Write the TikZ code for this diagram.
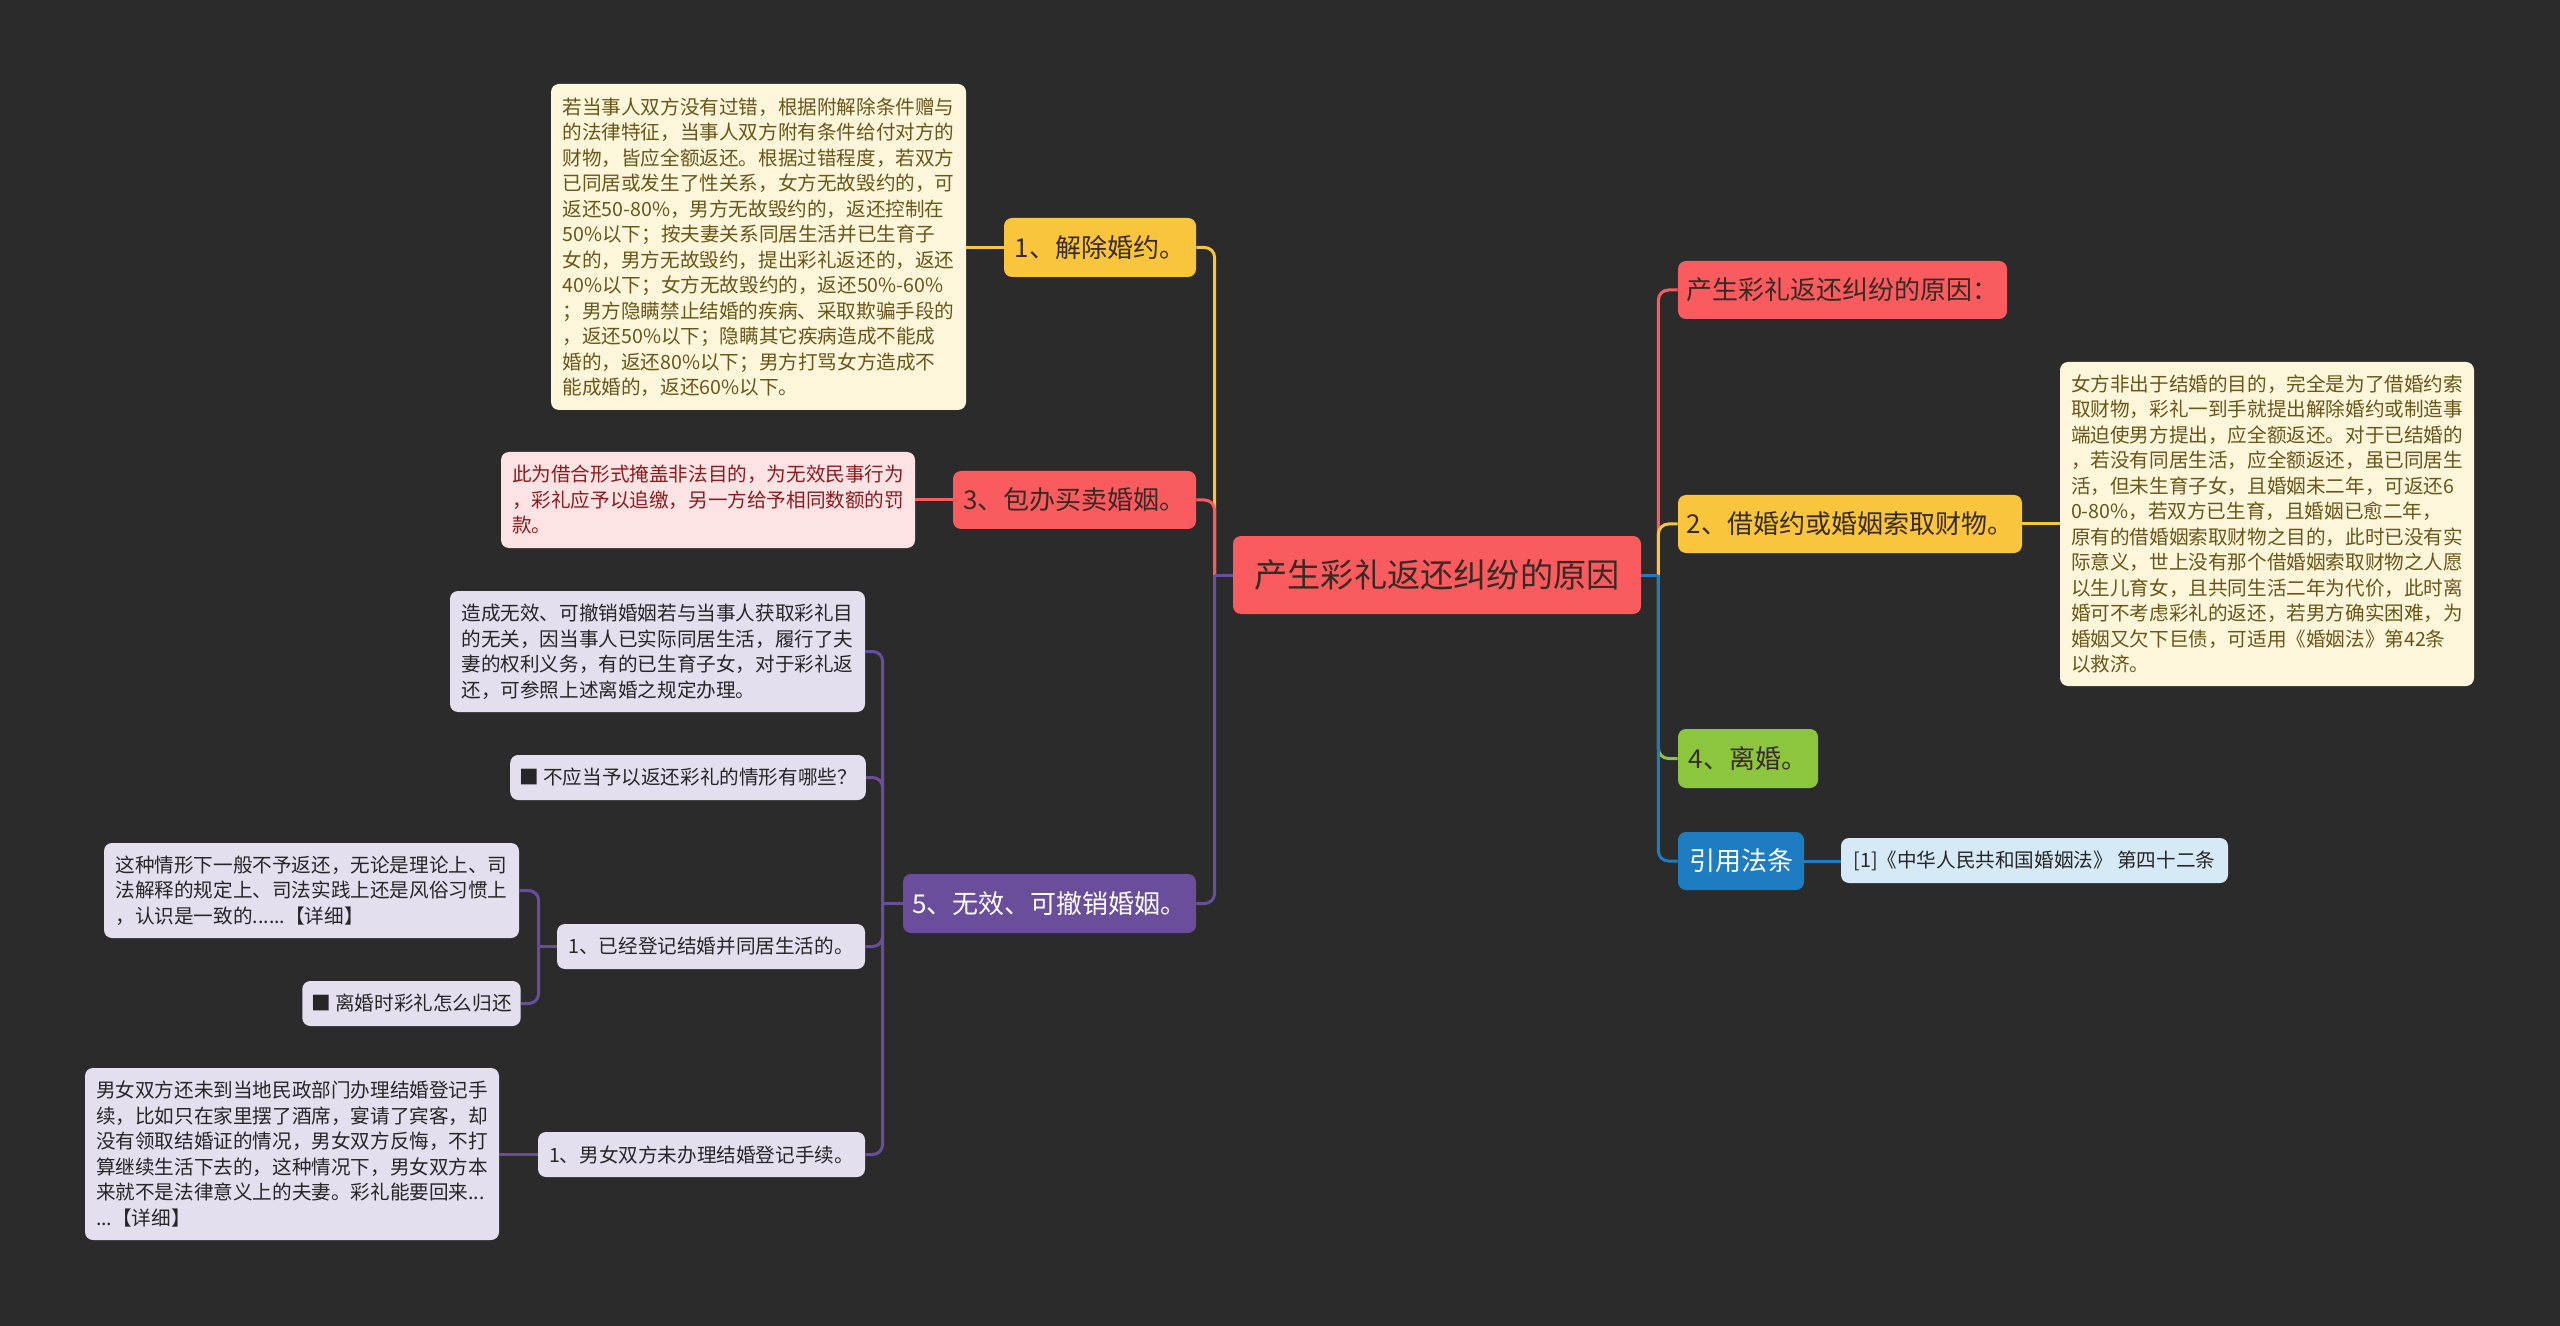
\documentclass[tikz,border=0pt]{standalone}
\usepackage{fontspec}
\setmainfont{Noto Sans CJK SC}
\usetikzlibrary{calc}
\definecolor{bg}{HTML}{2B2B2B}
\definecolor{cred}{HTML}{F95B5F}
\definecolor{cyel}{HTML}{F9C53C}
\definecolor{cpur}{HTML}{6A4E9B}
\definecolor{cgrn}{HTML}{8CC63F}
\definecolor{cblu}{HTML}{1E7DC2}
\definecolor{cream}{HTML}{FDF6DA}
\definecolor{creamtxt}{HTML}{6B561A}
\definecolor{pinkbg}{HTML}{FDE3E3}
\definecolor{pinktxt}{HTML}{8A1D20}
\definecolor{lav}{HTML}{E4DFEE}
\definecolor{lavtxt}{HTML}{262626}
\definecolor{lblue}{HTML}{D6E9F6}
\definecolor{darktxt}{HTML}{3A2A24}
\tikzset{
  box/.style={rounded corners=4pt, inner xsep=5pt, inner ysep=0pt, align=left},
  sz/.style 2 args={minimum width=#1*0.5pt, minimum height=#2*0.5pt},
  bigbox/.style={box, align=center, font=\fontsize{16.6pt}{19pt}\selectfont},
  lvl/.style={box, inner xsep=4pt, align=center, font=\fontsize{13pt}{16pt}\selectfont},
  small/.style={box, inner xsep=4.5pt, font=\fontsize{9.8pt}{12.75pt}\selectfont},
  conn/.style={line width=1.5pt, rounded corners=5pt},
}
\begin{document}
\begin{tikzpicture}[x=0.5pt,y=-0.5pt]
\fill[bg] (0,0) rectangle (2560,1326);
\useasboundingbox (0,0) rectangle (2560,1326);

% central node
\node[bigbox, sz={408}{78}, fill=cred, text=darktxt] (ctr) at (1437,575) {产生彩礼返还纠纷的原因};

% left first level
\node[lvl, sz={192}{59}, fill=cyel, text=darktxt] (n1) at (1100,247.5) {1、解除婚约。};
\node[lvl, sz={243}{58}, fill=cred, text=darktxt] (n3) at (1074.5,500) {3、包办买卖婚姻。};
\node[lvl, sz={293}{59}, fill=cpur, text=white] (n5) at (1049.5,903.5) {5、无效、可撤销婚姻。};

% right first level
\node[lvl, sz={329}{58}, fill=cred, text=darktxt] (r0) at (1842.5,290) {产生彩礼返还纠纷的原因：};
\node[lvl, sz={344}{58}, fill=cyel, text=darktxt] (n2) at (1850,524) {2、借婚约或婚姻索取财物。};
\node[lvl, sz={140}{59}, fill=cgrn, text=darktxt] (n4) at (1748,758.5) {4、离婚。};
\node[lvl, sz={126}{58}, fill=cblu, text=white] (law) at (1741,861) {引用法条};

% details
\node[small, sz={415}{326}, fill=cream, text=creamtxt] (det1) at (758.5,247) {若当事人双方没有过错，根据附解除条件赠与\\
的法律特征，当事人双方附有条件给付对方的\\
财物，皆应全额返还。根据过错程度，若双方\\
已同居或发生了性关系，女方无故毁约的，可\\
返还50-80\%，男方无故毁约的，返还控制在\\
50\%以下；按夫妻关系同居生活并已生育子\\
女的，男方无故毁约，提出彩礼返还的，返还\\
40\%以下；女方无故毁约的，返还50\%-60\%\\
；男方隐瞒禁止结婚的疾病、采取欺骗手段的\\
，返还50\%以下；隐瞒其它疾病造成不能成\\
婚的，返还80\%以下；男方打骂女方造成不\\
能成婚的，返还60\%以下。};

\node[small, sz={414}{96}, fill=pinkbg, text=pinktxt] (det3) at (708,500) {此为借合形式掩盖非法目的，为无效民事行为\\
，彩礼应予以追缴，另一方给予相同数额的罚\\
款。};

\node[small, sz={414}{324}, fill=cream, text=creamtxt] (det2) at (2267,524) {女方非出于结婚的目的，完全是为了借婚约索\\
取财物，彩礼一到手就提出解除婚约或制造事\\
端迫使男方提出，应全额返还。对于已结婚的\\
，若没有同居生活，应全额返还，虽已同居生\\
活，但未生育子女，且婚姻未二年，可返还6\\
0-80\%，若双方已生育，且婚姻已愈二年，\\
原有的借婚姻索取财物之目的，此时已没有实\\
际意义，世上没有那个借婚姻索取财物之人愿\\
以生儿育女，且共同生活二年为代价，此时离\\
婚可不考虑彩礼的返还，若男方确实困难，为\\
婚姻又欠下巨债，可适用《婚姻法》第42条\\
以救济。};

\node[small, align=center, sz={387}{45}, fill=lblue, text=lavtxt] (cite) at (2034.5,860.5) {[1]《中华人民共和国婚姻法》 第四十二条};

% children of 5
\node[small, sz={415}{121}, fill=lav, text=lavtxt] (a) at (657.5,651.5) {造成无效、可撤销婚姻若与当事人获取彩礼目\\
的无关，因当事人已实际同居生活，履行了夫\\
妻的权利义务，有的已生育子女，对于彩礼返\\
还，可参照上述离婚之规定办理。};
\node[small, align=center, sz={354}{45}, fill=lav, text=lavtxt] (b) at (688,777.5) {■ 不应当予以返还彩礼的情形有哪些？};
\node[small, align=center, sz={308}{45}, fill=lav, text=lavtxt] (c) at (711,946.5) {1、已经登记结婚并同居生活的。};
\node[small, align=center, sz={327}{45}, fill=lav, text=lavtxt] (d) at (701.5,1154.5) {1、男女双方未办理结婚登记手续。};

\node[small, sz={415}{95}, fill=lav, text=lavtxt] (c1) at (311.5,890.5) {这种情形下一般不予返还，无论是理论上、司\\
法解释的规定上、司法实践上还是风俗习惯上\\
，认识是一致的......【详细】};
\node[small, align=center, sz={215}{45}, fill=lav, text=lavtxt] (c2) at (411.5,1003.5) {■ 离婚时彩礼怎么归还};
\node[small, sz={414}{172}, fill=lav, text=lavtxt] (d1) at (292,1154) {男女双方还未到当地民政部门办理结婚登记手\\
续，比如只在家里摆了酒席，宴请了宾客，却\\
没有领取结婚证的情况，男女双方反悔，不打\\
算继续生活下去的，这种情况下，男女双方本\\
来就不是法律意义上的夫妻。彩礼能要回来...\\
...【详细】};

% connectors: left of centre
\coordinate (LJ) at ($(ctr.west)+(-18,0)$);
\draw[conn, cyel] (LJ) |- (n1.east);
\draw[conn, cred] (LJ) |- (n3.east);
\draw[conn, cpur] (LJ) |- (n5.east);
\draw[conn, cpur] (ctr.west) -- (LJ);

% connectors: right of centre
\coordinate (RJ) at ($(ctr.east)+(17,0)$);
\draw[conn, cred] (RJ) |- (r0.west);
\draw[conn, cyel] (RJ) |- (n2.west);
\draw[conn, cgrn] (RJ) |- (n4.west);
\draw[conn, cblu] (RJ) |- (law.west);
\draw[conn, cblu] (ctr.east) -- (RJ);

% children of 5
\coordinate (PJ) at ($(n5.west)+(-20,0)$);
\draw[conn, cpur] (PJ) |- (a.east);
\draw[conn, cpur] (PJ) |- (b.east);
\draw[conn, cpur] (PJ) |- (c.east);
\draw[conn, cpur] (PJ) |- (d.east);
\draw[conn, cpur] (n5.west) -- (PJ);

\coordinate (CJ) at ($(c.west)+(-18,0)$);
\draw[conn, cpur] (CJ) |- (c1.east);
\draw[conn, cpur] (CJ) |- (c2.east);
\draw[conn, cpur] (c.west) -- (CJ);

% detail links
\draw[conn, cyel] (n1.west) -- (n1.west -| det1.east);
\draw[conn, cred] (n3.west) -- (n3.west -| det3.east);
\draw[conn, cpur] (d.west) -- (d.west -| d1.east);
\draw[conn, cyel] (n2.east) -- (n2.east -| det2.west);
\draw[conn, cblu] (law.east) -- (law.east -| cite.west);
\end{tikzpicture}
\end{document}
